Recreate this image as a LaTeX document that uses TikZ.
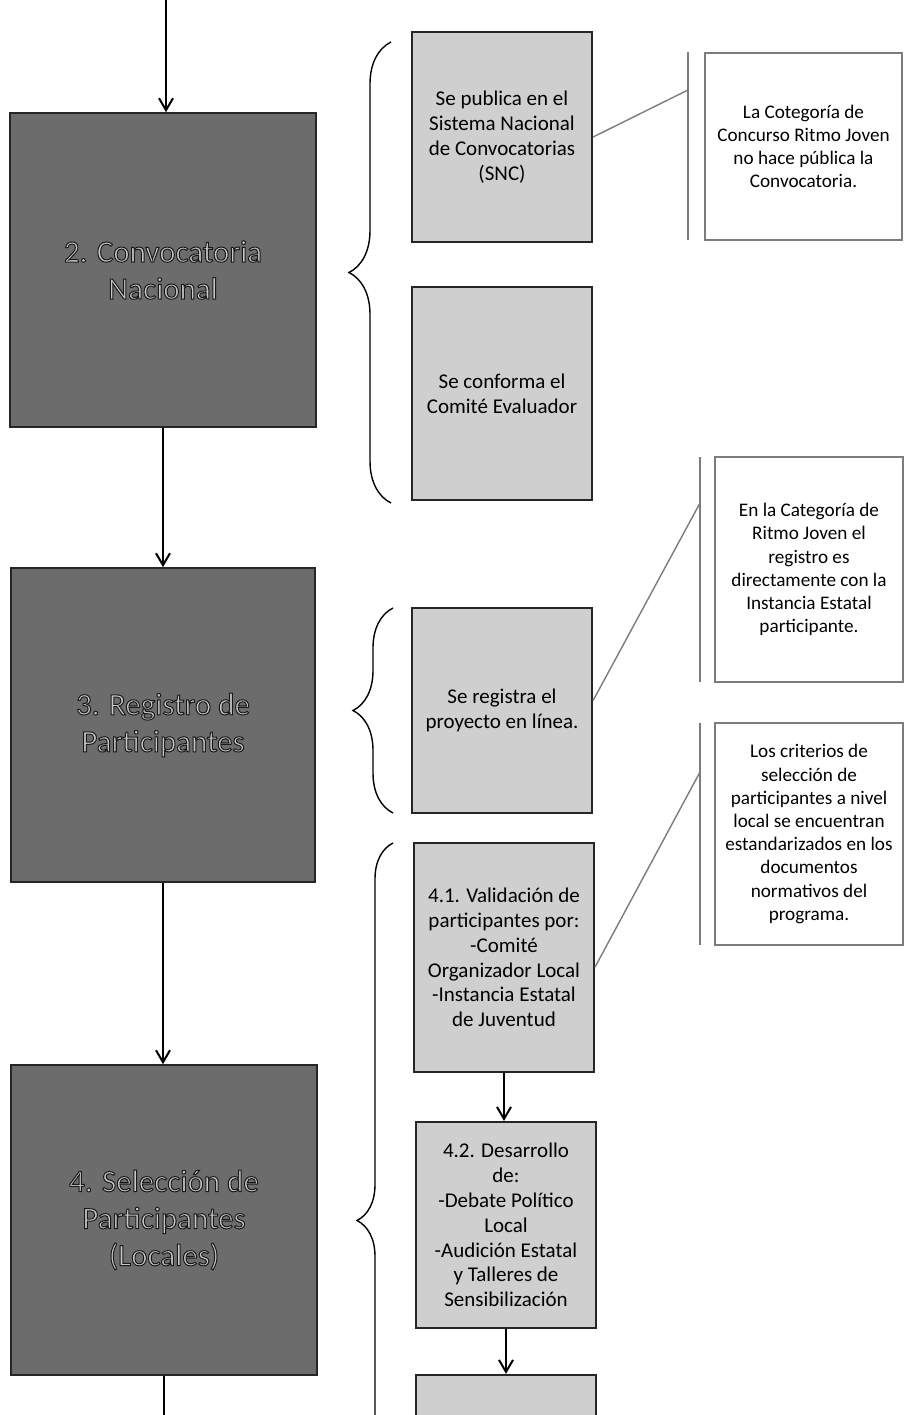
\documentclass[tikz,border=0pt]{standalone}
\usepackage{fontspec}
\setmainfont{Carlito}
\usetikzlibrary{arrows.meta,decorations.pathreplacing}
\definecolor{bigfill}{HTML}{6C6C6C}
\definecolor{bigtext}{HTML}{C8C8C8}
\definecolor{smallfill}{HTML}{CFCFCF}
\definecolor{notegray}{HTML}{7C7C7C}
\newcommand{\outlinedtext}[1]{\special{pdf:literal direct 0.1 0.1 0.1 RG 0.5 w 2 Tr}#1\special{pdf:literal direct 0 Tr}}
\begin{document}
\begin{tikzpicture}[x=0.5pt,y=-0.5pt,
  bigbox/.style={draw=black!85,line width=0.8pt,fill=bigfill,text=bigtext,align=center,inner sep=0pt,font=\fontsize{15.5}{18.5}\selectfont},
  smallbox/.style={draw=black!85,line width=1.1pt,fill=smallfill,align=center,inner sep=0pt,font=\fontsize{10.5}{12.4}\selectfont,text=black},
  notebox/.style={draw=notegray,line width=0.7pt,fill=white,align=center,inner sep=0pt,font=\fontsize{9.6}{11.6}\selectfont},
  arr/.style={draw=black,line width=0.6pt,-{Straight Barb[length=6pt,width=7pt,line width=1pt]}},
  callout/.style={draw=notegray,line width=0.7pt},
  accentbar/.style={draw=notegray,line width=1.2pt},
  bracestyle/.style={draw=black,line width=0.7pt,decorate,decoration={brace,amplitude=#1}},
]
\useasboundingbox[fill=white] (0,0) rectangle (905,1415);

% main column
\node[bigbox,minimum width=153pt,minimum height=157pt] (b1) at (163,270) {\outlinedtext{2. Convocatoria\\Nacional}};
\node[bigbox,minimum width=152pt,minimum height=157pt] (b2) at (163,725) {\outlinedtext{3. Registro de\\Participantes}};
\node[bigbox,minimum width=153pt,minimum height=155pt] (b3) at (164,1220) {\outlinedtext{4. Selección de\\Participantes\\(Locales)}};

\coordinate (topin) at (166,0);
\coordinate (botout) at (166,1415);
\draw[arr] (topin) -- (topin |- b1.north);
\draw[arr] (b1.south) -- (b1.south |- b2.north);
\draw[arr] (b2.south) -- (b2.south |- b3.north);
\draw[draw=black,line width=0.6pt] (b3.south) -- (b3.south |- botout);

% second column
\node[smallbox,minimum width=90pt,minimum height=105pt] (s1) at (502,137) {Se publica en el\\Sistema Nacional\\de Convocatorias\\(SNC)};
\node[smallbox,minimum width=90pt,minimum height=106.5pt] (s2) at (502,393.5) {Se conforma el\\Comité Evaluador};
\node[smallbox,minimum width=90pt,minimum height=102.5pt] (s3) at (502,710.5) {Se registra el\\proyecto en línea.};
\node[smallbox,minimum width=90pt,minimum height=114.5pt] (s4) at (504,957.5) {4.1. Validación de\\participantes por:\\-Comité\\Organizador Local\\-Instancia Estatal\\de Juventud};
\node[smallbox,minimum width=90pt,minimum height=103pt] (s5) at (506,1225) {4.2. Desarrollo\\de:\\-Debate Político\\Local\\-Audición Estatal\\y Talleres de\\Sensibilización};
\node[smallbox,minimum width=90pt,minimum height=35pt] (s6) at (506,1410) {};
\draw[arr] (s4.south) -- (s4.south |- s5.north);
\draw[arr] (s5.south) -- (s5.south |- s6.north);

% braces
\coordinate (br1a) at (391,503); \coordinate (br1b) at (391,42);
\coordinate (br2a) at (393,813); \coordinate (br2b) at (393,608);
\coordinate (br3a) at (393,1598); \coordinate (br3b) at (393,843);
\draw[bracestyle=21pt] (br1a) -- (br1b);
\draw[bracestyle=20pt] (br2a) -- (br2b);
\draw[bracestyle=18pt] (br3a) -- (br3b);

% notes
\node[notebox,minimum width=98.5pt,minimum height=93.5pt] (n1) at (803.5,146.5) {La Cotegoría de\\Concurso Ritmo Joven\\no hace pública la\\Convocatoria.};
\node[notebox,minimum width=94pt,minimum height=112.5pt] (n2) at (809,569.5) {En la Categoría de\\Ritmo Joven el\\registro es\\directamente con la\\Instancia Estatal\\participante.};
\node[notebox,minimum width=94pt,minimum height=111pt] (n3) at (809,834) {Los criterios de\\selección de\\participantes a nivel\\local se encuentran\\estandarizados en los\\documentos\\normativos del\\programa.};

\coordinate (a1t) at (688,52); \coordinate (a1b) at (688,240); \coordinate (c1) at (688,90);
\coordinate (a2t) at (700,457); \coordinate (a2b) at (700,682); \coordinate (c2) at (700,503);
\coordinate (a3t) at (700,723); \coordinate (a3b) at (700,945); \coordinate (c3) at (700,772);
\draw[accentbar] (a1t) -- (a1b);
\draw[accentbar] (a2t) -- (a2b);
\draw[accentbar] (a3t) -- (a3b);
\draw[callout] (s1.east) -- (c1);
\draw[callout] ([yshift=5pt]s3.east) -- (c2);
\draw[callout] ([yshift=-4.75pt]s4.east) -- (c3);
\end{tikzpicture}
\end{document}
